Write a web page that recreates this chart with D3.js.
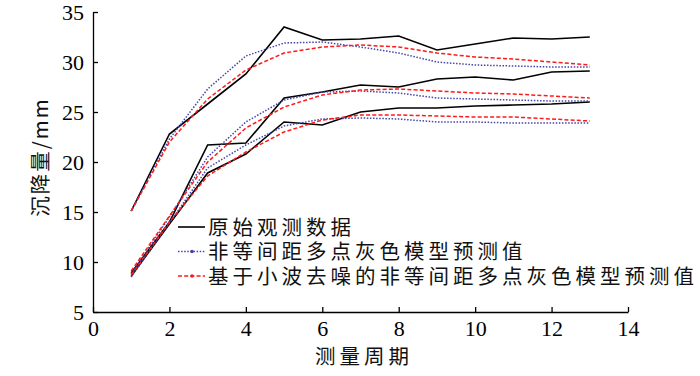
<!DOCTYPE html>
<html>
<head>
<meta charset="utf-8">
<script src="https://cdn.jsdelivr.net/npm/d3@7/dist/d3.min.js"></script>
<style>
  body { margin: 0; background: #fff; }
  svg { display: block; }
  .axis path, .axis line { stroke: #000; stroke-width: 1.3; }
  .axis text { font-family: "Liberation Serif", "Tinos", "DejaVu Serif", serif; font-size: 22px; fill: #000; }
  .cjk { font-family: "Noto Sans CJK SC", sans-serif; font-size: 20.5px; fill: #111; letter-spacing: 4px; }
</style>
</head>
<body>
<div id="mywrap"></div>
<script>
// measurement periods
const periods = [1, 2, 3, 4, 5, 6, 7, 8, 9, 10, 11, 12, 13]

// upper point
const obsA = [15.1, 22.8, 25.8, 28.8, 33.5, 32.2, 32.3, 32.6, 31.2, 31.8, 32.4, 32.3, 32.5]
const gmA = [15.1, 22.3, 27.3, 30.6, 31.9, 32.0, 31.5, 30.9, 30.0, 29.7, 29.6, 29.5, 29.5]
const wgmA = [15.1, 22.0, 26.3, 29.2, 30.9, 31.5, 31.7, 31.5, 30.9, 30.5, 30.3, 30.0, 29.7]

// middle point
const obsB = [8.9, 14.0, 21.7, 21.9, 26.4, 27.0, 27.7, 27.5, 28.3, 28.5, 28.2, 29.0, 29.1]
const gmB = [8.8, 14.5, 20.5, 24.0, 26.2, 27.0, 27.1, 26.9, 26.4, 26.3, 26.2, 26.1, 26.1]
const wgmB = [9.1, 14.6, 20.0, 23.4, 25.5, 26.7, 27.2, 27.3, 27.1, 26.9, 26.8, 26.6, 26.4]

// lower point
const obsC = [8.6, 13.8, 18.9, 20.8, 24.0, 23.7, 25.0, 25.4, 25.4, 25.6, 25.7, 25.8, 26.0]
const gmC = [8.5, 13.9, 19.4, 21.7, 23.6, 24.3, 24.4, 24.3, 24.0, 24.0, 23.9, 23.9, 23.9]
const wgmC = [8.7, 14.0, 18.6, 21.0, 23.0, 24.2, 24.7, 24.7, 24.6, 24.5, 24.5, 24.3, 24.1]

const legendLabels = ["原始观测数据", "非等间距多点灰色模型预测值", "基于小波去噪的非等间距多点灰色模型预测值"]
const xTicks = [0, 2, 4, 6, 8, 10, 12, 14]
const yTicks = [5, 10, 15, 20, 25, 30, 35]

let sWidth = 700, sHeight = 376,
    margin = {top: 12, right: 72, bottom: 64, left: 93}

let width = sWidth - (margin.left + margin.right),
    height = sHeight - (margin.top + margin.bottom)

let svg = d3.select("#mywrap").append("svg")
    .attr("width", sWidth)
    .attr("height", sHeight)

let g = svg.append("g").attr("transform", `translate(${margin.left},${margin.top})`)

let xScale = d3.scaleLinear().domain([0, 14]).range([0, width])
let yScale = d3.scaleLinear().domain([5, 35]).range([height, 0])

let styles = {
    obs: {color: "#000", dash: null, w: 1.6},
    gm: {color: "#4444aa", dash: "1.5,1.6", w: 1.5},
    wgm: {color: "#ff1a1a", dash: "4,2.2", w: 1.5}
}

let series = [
    [obsA, "obs"], [obsB, "obs"], [obsC, "obs"],
    [gmA, "gm"], [gmB, "gm"], [gmC, "gm"],
    [wgmA, "wgm"], [wgmB, "wgm"], [wgmC, "wgm"]
]

let line = d3.line()
    .x((d, i) => xScale(periods[i]))
    .y(d => yScale(d))

series.forEach(([vals, kind]) => {
    let s = styles[kind]
    g.append("path")
        .datum(vals)
        .attr("d", line)
        .attr("fill", "none")
        .attr("stroke", s.color)
        .attr("stroke-width", s.w)
        .attr("stroke-dasharray", s.dash)
})

// axes, ticks point inward
g.append("g")
    .attr("class", "axis")
    .attr("transform", `translate(0,${height})`)
    .call(d3.axisBottom(xScale).tickValues(xTicks).tickSizeInner(-5).tickSizeOuter(0).tickPadding(8))

g.append("g")
    .attr("class", "axis")
    .call(d3.axisLeft(yScale).tickValues(yTicks).tickSizeInner(-5).tickSizeOuter(0).tickPadding(9))

// axis titles
svg.append("text")
    .attr("class", "cjk")
    .attr("x", 364).attr("y", 364)
    .attr("text-anchor", "middle")
    .text("测量周期")

svg.append("text")
    .attr("class", "cjk")
    .attr("transform", "translate(48,157) rotate(-90)")
    .attr("text-anchor", "middle")
    .style("letter-spacing", "2px")
    .text("沉降量/mm")

// legend
let kinds = ["obs", "gm", "wgm"]
let legend = svg.append("g").attr("transform", "translate(178,227)")
kinds.forEach((k, i) => {
    let s = styles[k]
    let row = legend.append("g").attr("transform", `translate(0,${i * 24.5})`)
    row.append("line")
        .attr("x1", 0).attr("x2", 27).attr("y1", 0).attr("y2", 0)
        .attr("stroke", s.color)
        .attr("stroke-width", s.w)
        .attr("stroke-dasharray", s.dash)
    if (k != "obs") {
        row.append("circle").attr("cx", 14).attr("cy", 0).attr("r", 1.8).attr("fill", s.color)
    }
    row.append("text")
        .attr("class", "cjk")
        .attr("x", 30).attr("y", 7.5)
        .text(legendLabels[i])
})
</script>
</body>
</html>
